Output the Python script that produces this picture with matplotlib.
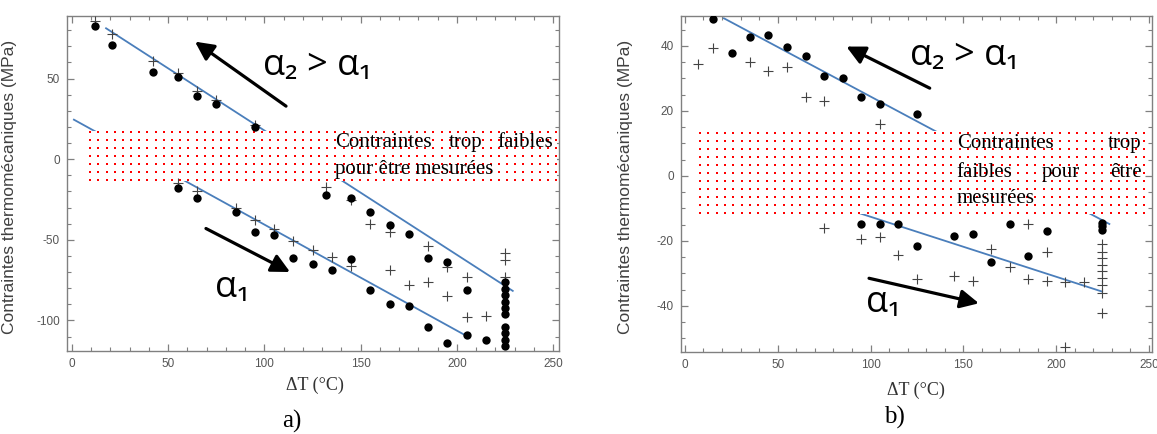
import numpy as np
import matplotlib
matplotlib.use('Agg')
import matplotlib.pyplot as plt
from matplotlib.patches import Rectangle
from matplotlib.ticker import MultipleLocator

plt.rcParams['axes.unicode_minus'] = False

# ---- panel a) ----
a_circ_x = [12, 21, 42, 55, 65, 75, 95,
            55, 65, 85, 95, 105, 115, 125, 135, 145, 155, 165, 175, 185, 195, 205, 215,
            132, 145, 155, 165, 175, 185, 195, 205,
            225, 225, 225, 225, 225, 225, 225, 225, 225, 225]
a_circ_y = [82.5, 71, 54, 51, 39, 34, 20,
            -18, -24, -32.5, -45, -47, -61, -65, -69, -62, -81, -90, -91, -104, -114, -109, -112,
            -22, -24, -33, -41, -46.5, -61, -64, -81,
            -76, -80.5, -84.5, -88.5, -92.5, -96, -104, -108, -112, -116]
a_plus_x = [12, 21, 42, 55, 65, 75, 95,
            55, 65, 85, 95, 105, 115, 125, 135, 145, 165, 175, 185, 195, 205, 215,
            132, 145, 155, 165, 185, 195, 205,
            225, 225, 225]
a_plus_y = [86, 77.5, 61, 53.5, 42, 36.5, 21.5,
            -15, -20, -30, -38, -43.5, -51, -56.5, -60.5, -66.5, -69, -78, -76, -85, -98, -97.5,
            -17, -25.5, -40, -45, -54, -67, -73,
            -58, -62.5, -73]
a_fit_hi_x = [17.7, 229]
a_fit_hi_y = [81.2, -81.7]
a_fit_lo_x = [1, 204]
a_fit_lo_y = [24.5, -109]

# ---- panel b) ----
b_circ_x = [15, 25.5, 35, 45, 55, 65, 75, 85, 95, 105, 125,
            95, 105, 115, 125, 145, 155, 165, 175, 185, 195, 225, 225, 225]
b_circ_y = [48.2, 37.7, 42.7, 43.5, 39.6, 36.9, 30.8, 30.2, 24.4, 22, 19.2,
            -14.9, -14.9, -14.9, -21.7, -18.5, -18, -26.5, -14.7, -24.8, -17.1, -14.5, -15.5, -16.5]
b_plus_x = [7, 15, 35, 45, 55, 65, 75, 105,
            75, 95, 105, 115, 125, 145, 155, 165, 175, 185, 185, 195, 195, 205, 205, 215,
            225, 225, 225, 225, 225, 225, 225, 225, 225]
b_plus_y = [34.4, 39.3, 35.2, 32.3, 33.6, 24.4, 22.9, 16,
            -15.9, -19.5, -18.9, -24.3, -31.6, -30.7, -32.2, -22.6, -27.9, -31.6, -14.9, -23.5, -32.2, -32.5, -52.8, -32.5,
            -21, -23.3, -25.3, -27.4, -29.4, -31.3, -33.5, -35.9, -42.3]
b_fit_hi_x = [21, 228.7]
b_fit_hi_y = [48.5, -14.8]
b_fit_lo_x = [94.2, 224.8]
b_fit_lo_y = [-11.5, -35.6]

ylabel = 'Contraintes thermomécaniques (MPa)'
xlabel = 'ΔT (°C)'

BLUE = '#4A7EBB'
GRAY = '#808080'


def style_axes(ax, xlim, ylim, ymajor, yminor):
    ax.set_xlim(*xlim)
    ax.set_ylim(*ylim)
    ax.xaxis.set_major_locator(MultipleLocator(50))
    ax.xaxis.set_minor_locator(MultipleLocator(10))
    ax.yaxis.set_major_locator(MultipleLocator(ymajor))
    ax.yaxis.set_minor_locator(MultipleLocator(yminor))
    ax.tick_params(which='both', direction='in', top=True, right=True, color=GRAY,
                   labelcolor='#555555', labelsize=8.5, pad=5)
    ax.tick_params(which='major', length=5, width=0.9)
    ax.tick_params(which='minor', length=3, width=0.8)
    for lab in ax.get_xticklabels() + ax.get_yticklabels():
        lab.set_family('Liberation Sans')
    for s in ax.spines.values():
        s.set_color(GRAY)
        s.set_linewidth(1.0)
    ax.set_ylabel(ylabel, family='Liberation Sans', fontsize=12.5, color='#404040')
    ax.yaxis.set_label_coords(-0.101, 0.49)


def dotted_box(ax, x0, x1, y0, y1, nx, ny):
    ax.add_patch(Rectangle((x0, y0), x1 - x0, y1 - y0, facecolor='white',
                           edgecolor='none', zorder=3))
    gx, gy = np.meshgrid(np.linspace(x0 + 0.5, x1 - 0.5, nx), np.linspace(y0 + 0.5, y1 - 0.5, ny))
    ax.scatter(gx.ravel(), gy.ravel(), s=4.5, marker='s', color='#ff0000', linewidths=0, zorder=4)


def arrow(ax, tail, tip):
    ax.annotate('', xy=tip, xytext=tail,
                arrowprops=dict(arrowstyle='-|>', color='black', lw=2.3,
                                mutation_scale=28, shrinkA=0, shrinkB=0), zorder=6)


fig = plt.figure(figsize=(11.57, 4.34), dpi=100)
ax1 = fig.add_axes([0.0579, 0.1912, 0.4252, 0.7719])
ax2 = fig.add_axes([0.5883, 0.1896, 0.4071, 0.7735])

serif = 'Liberation Serif'
greek = ['Open Sans', 'DejaVu Sans']

# panel a
ax1.plot(a_fit_hi_x, a_fit_hi_y, color=BLUE, lw=1.3, zorder=2)
ax1.plot(a_fit_lo_x, a_fit_lo_y, color=BLUE, lw=1.3, zorder=2)
dotted_box(ax1, 9, 252, -13.5, 17.5, 58, 7)
ax1.scatter(a_plus_x, a_plus_y, marker='+', s=55, color='#444444', linewidths=0.8, zorder=5)
ax1.scatter(a_circ_x, a_circ_y, marker='o', s=36, color='black', linewidths=0, zorder=5)
style_axes(ax1, (-2.6, 253), (-119, 88.8), 50, 10)
ax1.text(136.7, 7.6, 'Contraintes', family=serif, fontsize=15, ha='left', va='baseline', zorder=7)
ax1.text(204.3, 7.6, 'trop', family=serif, fontsize=15, ha='center', va='baseline', zorder=7)
ax1.text(250, 7.6, 'faibles', family=serif, fontsize=15, ha='right', va='baseline', zorder=7)
ax1.text(136.7, -8.9, 'pour être mesurées', family=serif, fontsize=15, ha='left', va='baseline', zorder=7)
arrow(ax1, (111.2, 32.9), (63.9, 72.9))
arrow(ax1, (69.6, -43), (113.3, -70))
ax1.text(99.3, 52.2, 'α₂ > α₁', family=greek, fontsize=26, ha='left', va='baseline', zorder=7)
ax1.text(74.3, -85.7, 'α₁', family=greek, fontsize=26, ha='left', va='baseline', zorder=7)

# panel b
ax2.plot(b_fit_hi_x, b_fit_hi_y, color=BLUE, lw=1.3, zorder=2)
ax2.plot(b_fit_lo_x, b_fit_lo_y, color=BLUE, lw=1.3, zorder=2)
dotted_box(ax2, 7.5, 248, -11.8, 13.8, 54, 11)
ax2.scatter(b_plus_x, b_plus_y, marker='+', s=55, color='#444444', linewidths=0.8, zorder=5)
ax2.scatter(b_circ_x, b_circ_y, marker='o', s=36, color='black', linewidths=0, zorder=5)
style_axes(ax2, (-2.3, 251.5), (-54.1, 49.2), 20, 5)
ax2.text(146.4, 8.5, 'Contraintes', family=serif, fontsize=15, ha='left', va='baseline', zorder=7)
ax2.text(246, 8.5, 'trop', family=serif, fontsize=15, ha='right', va='baseline', zorder=7)
ax2.text(146.4, -0.2, 'faibles', family=serif, fontsize=15, ha='left', va='baseline', zorder=7)
ax2.text(202.7, -0.2, 'pour', family=serif, fontsize=15, ha='center', va='baseline', zorder=7)
ax2.text(246, -0.2, 'être', family=serif, fontsize=15, ha='right', va='baseline', zorder=7)
ax2.text(146.4, -8.4, 'mesurées', family=serif, fontsize=15, ha='left', va='baseline', zorder=7)
arrow(ax2, (131.9, 27), (87, 39.8))
arrow(ax2, (99.2, -31.5), (158.4, -39.2))
ax2.text(121.1, 34.2, 'α₂ > α₁', family=greek, fontsize=26, ha='left', va='baseline', zorder=7)
ax2.text(97.8, -41.8, 'α₁', family=greek, fontsize=26, ha='left', va='baseline', zorder=7)

# x labels and panel letters
fig.text(315 / 1157, 1 - 385 / 434, xlabel, family=serif, fontsize=13, ha='center', va='center', color='#333333')
fig.text(916 / 1157, 1 - 390 / 434, xlabel, family=serif, fontsize=13, ha='center', va='center', color='#333333')
fig.text(292 / 1157, 1 - 421 / 434, 'a)', family=serif, fontsize=18, ha='center', va='center')
fig.text(894 / 1157, 1 - 417 / 434, 'b)', family=serif, fontsize=18, ha='center', va='center')

fig.savefig('out.png', dpi=100)
